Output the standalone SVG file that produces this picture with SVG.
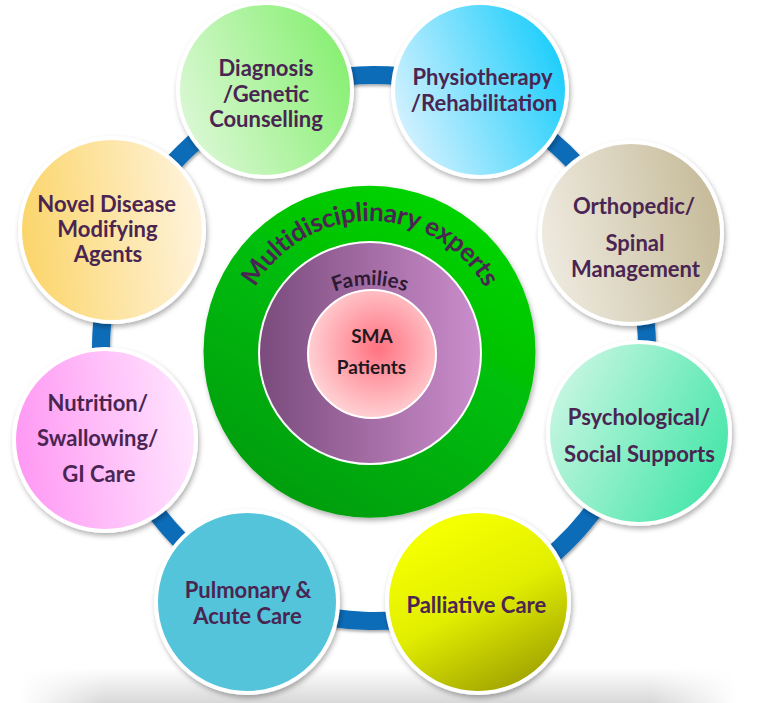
<svg xmlns="http://www.w3.org/2000/svg" width="757" height="703" viewBox="0 0 757 703">
<style>
.ring{fill:none;stroke:#0a6cb8;stroke-width:18}
.node{stroke:#ffffff;stroke-width:4;filter:url(#sh)}
.lbl{font-family:Lato,"Liberation Sans",sans-serif;font-weight:700;font-size:22px;fill:#4a2552;text-anchor:middle}
.core{font-family:Lato,"Liberation Sans",sans-serif;font-weight:700;text-anchor:middle}
</style>
<defs>
<filter id="sh" x="-20%" y="-20%" width="140%" height="140%"><feDropShadow dx="1.5" dy="3" stdDeviation="2.5" flood-color="#000" flood-opacity="0.3"/></filter>
<filter id="sh2" x="-20%" y="-20%" width="140%" height="140%"><feDropShadow dx="1" dy="2" stdDeviation="1.5" flood-color="#000" flood-opacity="0.35"/></filter>
<linearGradient id="gDiag" x1="0" y1="0.7" x2="1" y2="0.3"><stop offset="0" stop-color="#dcf8d6"/><stop offset="1" stop-color="#86ef70"/></linearGradient>
<linearGradient id="gPhys" x1="0" y1="0.7" x2="1" y2="0.3"><stop offset="0" stop-color="#d8f2ff"/><stop offset="1" stop-color="#18cdfb"/></linearGradient>
<linearGradient id="gOrtho" x1="0" y1="0.6" x2="1" y2="0.4"><stop offset="0" stop-color="#efebe1"/><stop offset="1" stop-color="#c5ba98"/></linearGradient>
<linearGradient id="gPsych" x1="0" y1="0.3" x2="1" y2="0.8"><stop offset="0" stop-color="#c8f6e2"/><stop offset="1" stop-color="#3de5a5"/></linearGradient>
<linearGradient id="gPall" x1="0.3" y1="0.1" x2="0.75" y2="1"><stop offset="0" stop-color="#f4ff00"/><stop offset="0.45" stop-color="#e2ee00"/><stop offset="1" stop-color="#9c9e00"/></linearGradient>
<linearGradient id="gNutr" x1="0" y1="0.5" x2="1" y2="0.4"><stop offset="0" stop-color="#ff98f3"/><stop offset="1" stop-color="#ffe6ff"/></linearGradient>
<linearGradient id="gNovel" x1="0" y1="0.5" x2="1" y2="0.4"><stop offset="0" stop-color="#fbd56a"/><stop offset="1" stop-color="#fff4de"/></linearGradient>
<linearGradient id="gGreen" x1="0.2" y1="1" x2="0.8" y2="0"><stop offset="0" stop-color="#009a12"/><stop offset="1" stop-color="#00d800"/></linearGradient>
<linearGradient id="gPurple" x1="0" y1="0" x2="1" y2="0"><stop offset="0" stop-color="#7a4b7c"/><stop offset="1" stop-color="#cc8ecd"/></linearGradient>
<radialGradient id="gPink" cx="0.55" cy="0.45" r="0.6"><stop offset="0" stop-color="#ff7281"/><stop offset="1" stop-color="#ffd8da"/></radialGradient>
<linearGradient id="gFloor" x1="0" y1="0" x2="0" y2="1"><stop offset="0" stop-color="#ffffff"/><stop offset="1" stop-color="#d8d8d8"/></linearGradient>
<linearGradient id="gFade" x1="0" y1="0" x2="1" y2="0"><stop offset="0" stop-color="#000"/><stop offset="0.12" stop-color="#fff"/><stop offset="0.88" stop-color="#fff"/><stop offset="1" stop-color="#000"/></linearGradient>
<mask id="mFade"><rect x="20" y="660" width="717" height="43" fill="url(#gFade)"/></mask>
<path id="pMulti" d="M238,353 A132,132 0 0 1 502,353"/>
<path id="pFam" d="M270,385 A100,100 0 0 1 470,385"/>
</defs>
<rect width="757" height="703" fill="#ffffff"/>
<rect x="20" y="668" width="717" height="35" fill="url(#gFloor)" mask="url(#mFade)"/>

<g id="connectors" filter="url(#sh2)">
<path class="ring" d="M268.2,96.3 A273,273 0 0 1 477.6,95.4"/>
<path class="ring" d="M477.6,95.4 A273,273 0 0 1 623.2,236.5"/>
<path class="ring" d="M623.2,236.5 A273,273 0 0 1 633.9,431.5"/>
<path class="ring" d="M633.9,431.5 A273,273 0 0 1 477.6,600.6"/>
<path class="ring" d="M477.6,600.6 A273,273 0 0 1 251.8,592.1"/>
<path class="ring" d="M251.8,592.1 A273,273 0 0 1 115.7,436.4"/>
<path class="ring" d="M115.7,436.4 A273,273 0 0 1 125.0,236.1"/>
<path class="ring" d="M125.0,236.1 A273,273 0 0 1 268.2,96.3"/>
</g>

<g id="core">
<circle cx="369.5" cy="351.7" r="166" fill="url(#gGreen)" filter="url(#sh)"/>
<text class="core" font-size="26" letter-spacing="-0.3" fill="#4a2552"><textPath href="#pMulti" startOffset="50%">Multidisciplinary experts</textPath></text>
<circle cx="370" cy="353" r="111" fill="url(#gPurple)" stroke="#ffffff" stroke-width="2"/>
<text class="core" font-size="20.5" fill="#2e1a33"><textPath href="#pFam" startOffset="50%">Families</textPath></text>
<circle cx="372" cy="354" r="64" fill="url(#gPink)" stroke="#ffffff" stroke-width="2"/>
<text class="core" font-size="19" fill="#231820" x="372" y="343">SMA</text>
<text class="core" font-size="19" fill="#231820" x="371.5" y="374">Patients</text>
</g>

<g id="n-diagnosis">
<circle class="node" cx="265" cy="90" r="87" fill="url(#gDiag)"/>
<text class="lbl" x="266" y="76">Diagnosis</text>
<text class="lbl" x="266" y="102">/Genetic</text>
<text class="lbl" x="266" y="127">Counselling</text>
</g>
<g id="n-physio">
<circle class="node" cx="480" cy="90" r="87" fill="url(#gPhys)"/>
<text class="lbl" x="482.5" y="85">Physiotherapy</text>
<text class="lbl" x="484" y="111">/Rehabilitation</text>
</g>
<g id="n-ortho">
<circle class="node" cx="631" cy="233" r="91" fill="url(#gOrtho)"/>
<text class="lbl" x="634" y="214">Orthopedic/</text>
<text class="lbl" x="635" y="250.7">Spinal</text>
<text class="lbl" x="635.5" y="276.7">Management</text>
</g>
<g id="n-psych">
<circle class="node" cx="639" cy="433" r="91" fill="url(#gPsych)"/>
<text class="lbl" x="639" y="425">Psychological/</text>
<text class="lbl" x="639.5" y="461.7">Social Supports</text>
</g>
<g id="n-palliative">
<circle class="node" cx="478" cy="602" r="91" fill="url(#gPall)"/>
<text class="lbl" x="476.3" y="613.3">Palliative Care</text>
</g>
<g id="n-pulmonary">
<circle class="node" cx="247" cy="602" r="91" fill="#53c4da"/>
<text class="lbl" x="248" y="598">Pulmonary &amp;</text>
<text class="lbl" x="247.5" y="624">Acute Care</text>
</g>
<g id="n-nutrition">
<circle class="node" cx="105" cy="440" r="91" fill="url(#gNutr)"/>
<text class="lbl" x="97.7" y="410.7">Nutrition/</text>
<text class="lbl" x="97.7" y="446">Swallowing/</text>
<text class="lbl" x="98.8" y="481.7">GI Care</text>
</g>
<g id="n-novel">
<circle class="node" cx="112" cy="230" r="92" fill="url(#gNovel)"/>
<text class="lbl" x="106.7" y="211.7">Novel Disease</text>
<text class="lbl" x="107.5" y="237">Modifying</text>
<text class="lbl" x="108" y="262">Agents</text>
</g>
</svg>
